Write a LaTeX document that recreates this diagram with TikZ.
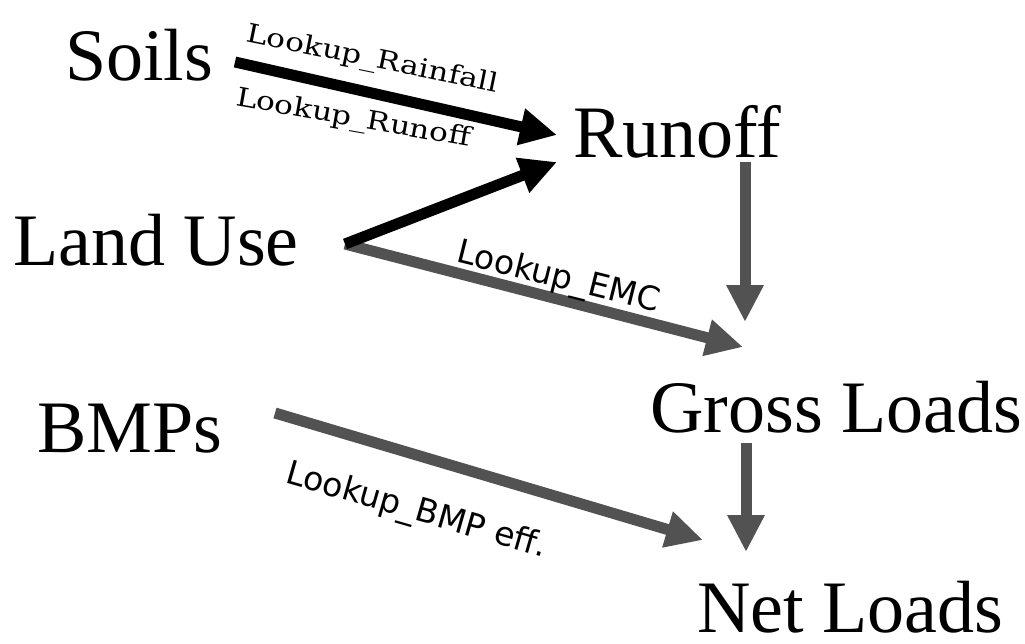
\documentclass[tikz,border=0pt]{standalone}
\usepackage{fontspec}
\setmainfont{Liberation Serif}
\newfontfamily\lblserif[FakeStretch=1.2]{DejaVu Serif}
\newfontfamily\lblsans{DejaVu Sans}
\usetikzlibrary{arrows.meta}
\definecolor{dgray}{gray}{0.32}
\tikzset{
  big/.style={inner sep=0pt, anchor=base west, font=\fontsize{74}{80}\selectfont},
  serlbl/.style={inner sep=0pt, anchor=base, font=\lblserif\fontsize{26}{30}\selectfont},
  sanslbl/.style={inner sep=0pt, anchor=base, font=\lblsans\fontsize{33}{38}\selectfont},
  flow/.style={line width=11pt, -{Triangle[length=37pt,width=35pt]}},
  blk/.style={flow, draw=black, fill=black},
  gry/.style={flow, draw=dgray, fill=dgray},
}
\begin{document}
\begin{tikzpicture}[x=1pt,y=-1pt]
\useasboundingbox (0,0) rectangle (1025,643);
\fill[white] (0,0) rectangle (1025,643);
% main nodes
\node[big] (soils)   at (65,80)   {Soils};
\node[big] (runoff)  at (573,157) {Runoff};
\node[big] (landuse) at (13,265)  {Land Use};
\node[big] (gross)   at (650,432) {Gross Loads};
\node[big] (bmps)    at (37,452)  {BMPs};
\node[big] (net)     at (697,632) {Net Loads};
% connectors
\draw[gry] ([shift={(332,-21)}]landuse.base west) -- ([shift={(93,-85)}]gross.base west);
\draw[blk] ([shift={(332,-21)}]landuse.base west) -- ([shift={(-16,5)}]runoff.base west);
\draw[blk] ([shift={(170,-18)}]soils.base west) -- ([shift={(-16,-22)}]runoff.base west);
\draw[gry] ([shift={(172,5)}]runoff.base west) -- ([shift={(95,-110)}]gross.base west);
\draw[gry] ([shift={(96,11)}]gross.base west) -- ([shift={(49,-80)}]net.base west);
\draw[gry] ([shift={(238,-39)}]bmps.base west) -- ([shift={(6,-92)}]net.base west);
% labels
\node[serlbl, rotate=-11.5] (lrain) at (371,67)  {Lookup\_Rainfall};
\node[serlbl, rotate=-10]   (lrun)  at (352,126) {Lookup\_Runoff};
\node[sanslbl, rotate=-14]  (lemc)  at (556,287) {Lookup\_EMC};
\node[sanslbl, rotate=-16]  (lbmp)  at (414,520) {Lookup\_BMP eff.};
\end{tikzpicture}
\end{document}
